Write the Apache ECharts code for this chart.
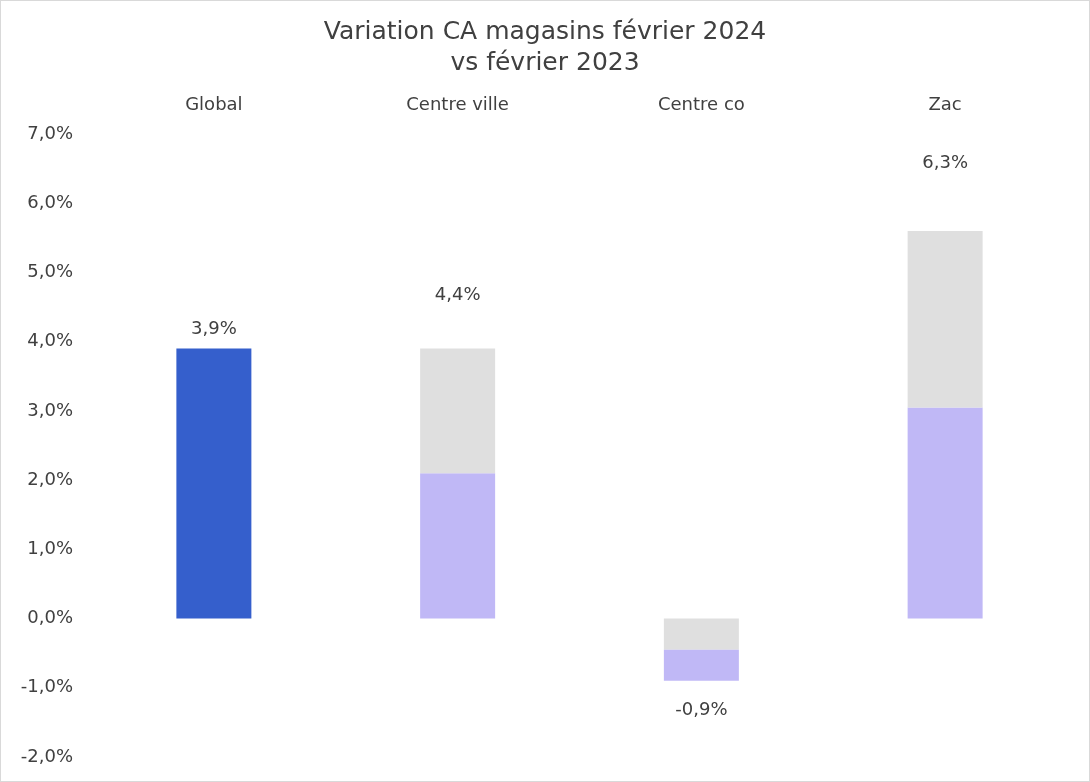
<!DOCTYPE html>
<html>
<head>
	<meta charset="UTF-8">
	<title>Variation CA magasins</title>
	<script src="https://cdn.jsdelivr.net/npm/echarts@6/dist/echarts.min.js"></script>
	<style>
		html, body { margin: 0; padding: 0; background: #fff; }
		#chart { width: 1088px; height: 780px; border: 1px solid #d9d9d9; }
	</style>
</head>
<body>
<div id="chart"></div>
<script type="text/javascript">
	// categories and values
	var categories = ['Global', 'Centre ville', 'Centre co', 'Zac'];
	var variation = [3.9, 4.4, -0.9, 6.3];        // displayed labels
	var globalBar = [3.9, null, null, null];
	var lavBase = [null, 2.1, null, 3.05];
	var greyPart = [null, 1.8, -0.45, 2.55];
	var lavEnd = [null, null, -0.45, null];
	var yTicks = [-2, -1, 0, 1, 2, 3, 4, 5, 6, 7];

	function pct(v) {
		return v.toFixed(1).replace('.', ',') + '%';
	}

	var font = 'DejaVu Sans, Verdana, sans-serif';
	var myChart = echarts.init(document.getElementById('chart'));

	var option = {
		animation: false,
		title: {
			text: 'Variation CA magasins février 2024\nvs février 2023',
			left: 'center',
			top: 11,
			textStyle: {
				fontFamily: font,
				fontSize: 25,
				fontWeight: 'normal',
				color: '#404040',
				lineHeight: 31
			}
		},
		grid: { left: 91, right: 22, top: 133, bottom: 24 },
		xAxis: {
			type: 'category',
			data: categories,
			position: 'top',
			axisLine: { show: false },
			axisTick: { show: false },
			axisLabel: {
				margin: 20,
				fontFamily: font,
				fontSize: 18,
				color: '#404040'
			}
		},
		yAxis: {
			type: 'value',
			min: yTicks[0],
			max: yTicks[yTicks.length - 1],
			interval: 1,
			splitLine: { show: false },
			axisLine: { show: false },
			axisTick: { show: false },
			axisLabel: {
				margin: 19,
				fontFamily: font,
				fontSize: 18,
				color: '#404040',
				formatter: pct
			}
		},
		series: [
			{
				name: 'Global',
				type: 'bar',
				stack: 'v',
				barWidth: 75,
				data: globalBar,
				itemStyle: { color: '#355fcc' }
			},
			{
				name: 'base',
				type: 'bar',
				stack: 'v',
				data: lavBase,
				itemStyle: { color: '#c0b8f6' }
			},
			{
				name: 'gris',
				type: 'bar',
				stack: 'v',
				data: greyPart,
				itemStyle: { color: '#dfdfdf' }
			},
			{
				name: 'fin',
				type: 'bar',
				stack: 'v',
				data: lavEnd,
				itemStyle: { color: '#c0b8f6' }
			},
			{
				name: 'Variation',
				type: 'bar',
				barGap: '-100%',
				barWidth: 75,
				itemStyle: { color: 'rgba(0,0,0,0)' },
				label: {
					show: true,
					position: 'top',
					distance: 10,
					fontFamily: font,
					fontSize: 18,
					color: '#404040',
					formatter: function (p) { return pct(p.value); }
				}
			}
		]
	};
	// negative label goes below the bar
	option.series[4].data = variation.map(function (v) {
		return v < 0 ? { value: v, label: { position: 'bottom', distance: 20 } } : v;
	});
	myChart.setOption(option);
</script>
</body>
</html>
